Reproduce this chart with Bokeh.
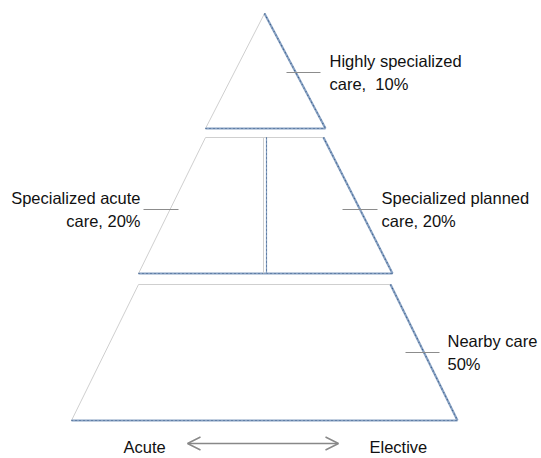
from bokeh.plotting import figure
from bokeh.models import Range1d, ColumnDataSource, Arrow, OpenHead
from bokeh.core.properties import value
from bokeh.embed import file_html
from bokeh.resources import INLINE

# ---- data ----
line1 = ["Highly specialized", "Specialized acute", "Specialized planned", "Nearby care"]
line2_prefix = ["care,\u00a0 ", "care, ", "care, ", ""]
shares = [10, 20, 20, 50]
axis_labels = ["Acute", "Elective"]

# ---- layout (pixel space of the picture) ----
tier_top_y = [13, 137, 284]
tier_bot_y = [128, 273, 420]
tier_top_l = [264, 205, 138]
tier_top_r = [264, 323, 390]
tier_bot_l = [205, 138, 71]
tier_bot_r = [325, 392, 457]
divider_x = 264

leader_x0 = [286, 143, 342, 405]
leader_x1 = [320, 178, 377, 439]
leader_y = [72, 209, 209, 352]
text_x = [329, 140, 381, 447]
text_align = ["left", "right", "left", "left"]

FONT = "Liberation Sans"
FS = "16.5px"
GRAY_EDGE = "#cfcfcf"
BLUE = "#86a0c2"
BLUE_DARK = "#3d5f8a"

p = figure(width=541, height=458, x_range=Range1d(0, 541), y_range=Range1d(458, 0),
           output_backend="svg", toolbar_location=None, min_border=0)
p.axis.visible = False
p.grid.visible = False
p.outline_line_color = None
p.background_fill_color = "white"

xs = [[tl, tr, br, bl] for tl, tr, br, bl in zip(tier_top_l, tier_top_r, tier_bot_r, tier_bot_l)]
ys = [[t, t, b, b] for t, b in zip(tier_top_y, tier_bot_y)]
p.patches(xs, ys, fill_color="white", line_color=GRAY_EDGE, line_width=1)

# shaded right & bottom edges
ex0 = list(tier_top_r) + list(tier_bot_l)
ey0 = list(tier_top_y) + list(tier_bot_y)
ex1 = list(tier_bot_r) + list(tier_bot_r)
ey1 = list(tier_bot_y) + list(tier_bot_y)
p.segment(ex0, ey0, ex1, ey1, line_color=BLUE, line_width=2.2)
p.segment(ex0, ey0, ex1, ey1, line_color=BLUE_DARK, line_width=1.2, line_dash="1 3")

# divider in the middle tier
p.segment([divider_x - 1], [tier_top_y[1]], [divider_x - 1], [tier_bot_y[1]], line_color=GRAY_EDGE, line_width=1)
p.segment([divider_x + 2], [tier_top_y[1]], [divider_x + 2], [tier_bot_y[1]], line_color=BLUE, line_width=1.2)
p.segment([divider_x + 2], [tier_top_y[1]], [divider_x + 2], [tier_bot_y[1]], line_color=BLUE_DARK, line_width=1, line_dash="1 3")

# leaders
p.segment(leader_x0, leader_y, leader_x1, leader_y, line_color="#8c8c8c", line_width=1)

# labels
for i in range(len(line1)):
    l2 = f"{line2_prefix[i]}{shares[i]}%"
    src = ColumnDataSource(dict(x=[text_x[i], text_x[i]], y=[leader_y[i] - 12, leader_y[i] + 11], t=[line1[i], l2]))
    p.text("x", "y", text="t", source=src, text_align=text_align[i], text_baseline="middle",
           text_font=value(FONT), text_font_size=FS, text_color="#111111")

# bottom arrow
arrow_y = 443
p.add_layout(Arrow(start=OpenHead(size=13, line_color="#888888", line_width=1.5),
                   end=OpenHead(size=13, line_color="#888888", line_width=1.5),
                   x_start=187, y_start=arrow_y, x_end=338, y_end=arrow_y,
                   line_color="#888888", line_width=1.5))
p.text([123, 369], [446, 446], text=axis_labels, text_align="left", text_baseline="middle",
       text_font=value(FONT), text_font_size=FS, text_color="#111111")

open("out.html", "w").write(file_html(p, INLINE))
